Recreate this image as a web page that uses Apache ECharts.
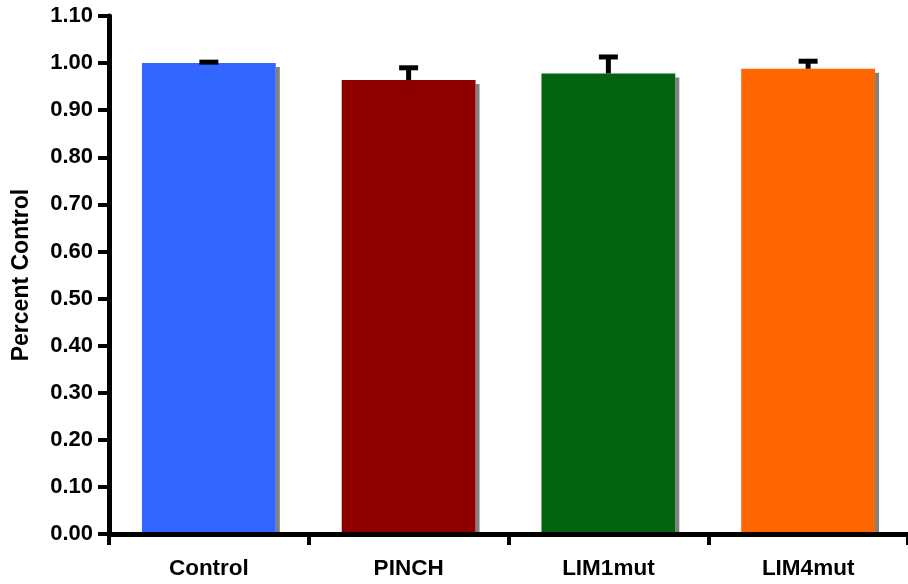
<!DOCTYPE html>
<html>
<head>
<meta charset="utf-8">
<script src="https://cdn.jsdelivr.net/npm/echarts@6/dist/echarts.min.js"></script>
<style>html,body{margin:0;padding:0;background:#fff;}#c{width:908px;height:584px;}</style>
</head>
<body>
<div id="c"></div>
<script>
const categories = ['Control', 'PINCH', 'LIM1mut', 'LIM4mut'];
const values = [1.000, 0.964, 0.978, 0.988];
const errors = [0.002, 0.026, 0.035, 0.016];
const colors = ['#3366ff', '#8e0000', '#026410', '#ff6600'];
const yTicks = { min: 0, max: 1.1, interval: 0.1 };

const chart = echarts.init(document.getElementById('c'), null, { renderer: 'canvas' });
const font = '"Liberation Sans", Arial, sans-serif';

chart.setOption({
  animation: false,
  backgroundColor: '#fff',
  grid: { left: 109, right: -2, top: 16, bottom: 50, containLabel: false },
  xAxis: {
    type: 'category',
    data: categories,
    z: 5,
    axisLine: { lineStyle: { color: '#000', width: 5 } },
    axisTick: { show: true, length: 11, lineStyle: { color: '#000', width: 4 } },
    axisLabel: { color: '#000', fontFamily: font, fontWeight: 'bold', fontSize: 22.5, margin: 23 },
    splitLine: { show: false }
  },
  yAxis: {
    type: 'value',
    min: yTicks.min, max: yTicks.max, interval: yTicks.interval,
    z: 5,
    name: 'Percent Control',
    nameLocation: 'middle',
    nameGap: 76,
    nameTextStyle: { color: '#000', fontFamily: font, fontWeight: 'bold', fontSize: 23 },
    axisLine: { show: true, lineStyle: { color: '#000', width: 5 } },
    axisTick: { show: true, length: 11, lineStyle: { color: '#000', width: 4 } },
    axisLabel: { color: '#000', fontFamily: font, fontWeight: 'bold', fontSize: 22, margin: 16,
      formatter: v => v.toFixed(2) },
    splitLine: { show: false }
  },
  series: [
    {
      type: 'custom',
      z: 1,
      data: values.map((v, i) => [i, v]),
      renderItem: function (params, api) {
        const top = api.coord([api.value(0), api.value(1)]);
        const base = api.coord([api.value(0), 0]);
        const bw = api.size([1, 0])[0] * 0.67;
        return {
          type: 'rect',
          shape: { x: top[0] + bw / 2, y: top[1] + 4, width: 4, height: base[1] - top[1] - 4 },
          style: { fill: '#808080' }
        };
      }
    },
    {
      type: 'bar',
      barWidth: '67%',
      z: 2,
      data: values.map((v, i) => ({ value: v, itemStyle: { color: colors[i] } }))
    },
    {
      type: 'custom',
      z: 3,
      data: values.map((v, i) => [i, v, v + errors[i]]),
      renderItem: function (params, api) {
        const p0 = api.coord([api.value(0), api.value(1)]);
        const p1 = api.coord([api.value(0), api.value(2)]);
        const capW = 19;
        return {
          type: 'group',
          children: [
            { type: 'line', shape: { x1: p0[0], y1: p0[1], x2: p1[0], y2: p1[1] },
              style: { stroke: '#000', lineWidth: 5 } },
            { type: 'line', shape: { x1: p1[0] - capW / 2, y1: p1[1], x2: p1[0] + capW / 2, y2: p1[1] },
              style: { stroke: '#000', lineWidth: 5 } }
          ]
        };
      }
    }
  ]
});
</script>
</body>
</html>
